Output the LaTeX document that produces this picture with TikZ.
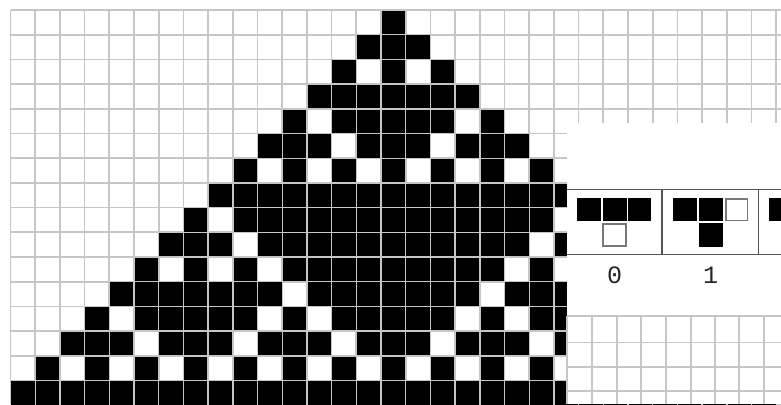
\documentclass[tikz,border=0pt]{standalone}
\usepackage{fontspec}
\newfontfamily\labelfont{Liberation Mono}
\definecolor{gridgray}{RGB}{198,198,198}
\definecolor{boxgray}{RGB}{85,85,85}
\definecolor{offgray}{RGB}{120,120,120}
\newcommand\cellrow[2]{\foreach \cc in {#2}{\fill[cellfill] ({10.5+24.7*\cc+0.7},{10+24.7*#1+0.7}) rectangle ++(23.3,23.3);}}
\begin{document}
\begin{tikzpicture}[x=1pt,y=-1pt,
  gridline/.style={draw=gridgray,line width=1.7pt},
  cellfill/.style={fill=black},
  boxline/.style={draw=boxgray,line width=1.4pt},
  iconon/.style={fill=black},
  iconoff/.style={fill=white,draw=offgray,line width=1.4pt},
  ruletext/.style={font=\labelfont\fontsize{25}{30}\selectfont,text=black!85,inner sep=0pt}]
\useasboundingbox (0,0) rectangle (781,404);
\clip (0,0) rectangle (781,404);
\fill[white] (0,0) rectangle (781,404);
% main grid
\foreach \c in {0,...,31} \draw[gridline] ({10.5+24.7*\c},10) -- ({10.5+24.7*\c},404);
\foreach \r in {0,...,16} \draw[gridline] (10.5,{10+24.7*\r}) -- (781,{10+24.7*\r});
% rule 182 cells
\cellrow{0}{15}
\cellrow{1}{14,15,16}
\cellrow{2}{13,15,17}
\cellrow{3}{12,...,18}
\cellrow{4}{11,13,14,15,16,17,19}
\cellrow{5}{10,11,12,14,15,16,18,19,20}
\cellrow{6}{9,11,13,15,17,19,21}
\cellrow{7}{8,...,22}
\cellrow{8}{7,9,10,11,12,13,14,15,16,17,18,19,20,21,23}
\cellrow{9}{6,7,8,10,11,12,13,14,15,16,17,18,19,20,22,23,24}
\cellrow{10}{5,7,9,11,12,13,14,15,16,17,18,19,21,23,25}
\cellrow{11}{4,5,6,7,8,9,10,12,13,14,15,16,17,18,20,21,22,23,24,25,26}
\cellrow{12}{3,5,6,7,8,9,11,13,14,15,16,17,19,21,22,23,24,25,27}
\cellrow{13}{2,3,4,6,7,8,10,11,12,14,15,16,18,19,20,22,23,24,26,27,28}
\cellrow{14}{1,3,5,7,9,11,13,15,17,19,21,23,25,27,29}
\cellrow{15}{0,...,30}
% overlaid panel
\fill[white] (566.7,122.7) rectangle (781,404);
\foreach \x in {567.3,592.3,616.7,641.3,665.7,690.7,714.7,739,763.7}
  \draw[gridline] (\x,315.7) -- (\x,404);
\foreach \y in {315.7,342.5,366.7,390.8}
  \draw[gridline] (567.3,\y) -- (781,\y);
% rule icon table
\draw[boxline] (566.7,189.5) -- (781,189.5);
\draw[boxline] (566.7,254.5) -- (781,254.5);
\draw[boxline] (662,189.5) -- (662,254.5);
\draw[boxline] (758.7,189.5) -- (758.7,254.5);
% icon 0: 111 -> 0
\fill[iconon] (577.3,198.3) rectangle ++(23.3,22.7);
\fill[iconon] (603.3,198.3) rectangle ++(23.3,22.7);
\fill[iconon] (628.3,198.3) rectangle ++(23.0,22.7);
\draw[iconoff] (603.1,224.1) rectangle (625.9,246.0);
% icon 1: 110 -> 1
\fill[iconon] (673.3,198.3) rectangle ++(23.3,22.7);
\fill[iconon] (699.3,198.3) rectangle ++(23.3,22.7);
\draw[iconoff] (725.8,199.1) rectangle (747.5,220.4);
\fill[iconon] (699.3,223.3) rectangle ++(23.3,23.4);
% icon 2 (cut off)
\fill[iconon] (769.3,198.3) rectangle ++(23.3,22.7);
% labels
\node[ruletext] (lab0) at (614.5,275) {0};
\node[ruletext] (lab1) at (710.5,275) {1};
\end{tikzpicture}
\end{document}
